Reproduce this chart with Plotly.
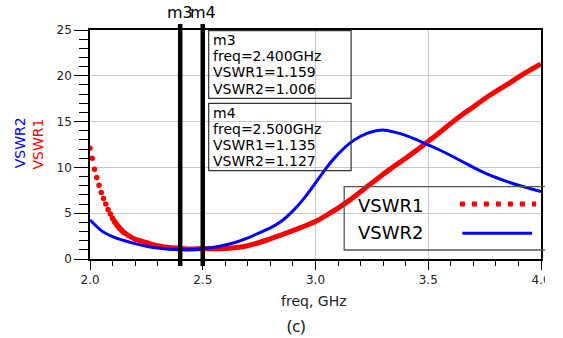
import plotly.graph_objects as go

# ---------------- data ----------------
freq = [2.00, 2.05, 2.10, 2.15, 2.20, 2.25, 2.30, 2.35, 2.40, 2.45, 2.50,
        2.55, 2.60, 2.65, 2.70, 2.75, 2.80, 2.85, 2.90, 2.95, 3.00,
        3.05, 3.10, 3.15, 3.20, 3.25, 3.30, 3.35, 3.40, 3.45, 3.50,
        3.55, 3.60, 3.65, 3.70, 3.75, 3.80, 3.85, 3.90, 3.95, 4.00]

vswr2 = [4.26, 3.10, 2.45, 2.02, 1.68, 1.40, 1.20, 1.06, 1.006, 1.04, 1.127,
         1.28, 1.52, 1.85, 2.30, 2.85, 3.40, 4.15, 5.25, 6.65, 8.30,
         10.00, 11.45, 12.60, 13.40, 13.90, 14.08, 13.85, 13.50, 13.00, 12.45,
         11.90, 11.30, 10.65, 10.00, 9.40, 8.90, 8.45, 8.05, 7.70, 7.35]

# VSWR1, smooth part (from 2.10 GHz)
freq_v1 = [2.10, 2.15, 2.20, 2.25, 2.30, 2.35, 2.40, 2.45, 2.50,
           2.55, 2.60, 2.65, 2.70, 2.75, 2.80, 2.85, 2.90, 2.95, 3.00,
           3.05, 3.10, 3.15, 3.20, 3.25, 3.30, 3.35, 3.40, 3.45, 3.50,
           3.55, 3.60, 3.65, 3.70, 3.75, 3.80, 3.85, 3.90, 3.95, 4.00]
vswr1 = [4.40, 2.90, 2.15, 1.80, 1.45, 1.25, 1.159, 1.10, 1.135,
         1.12, 1.15, 1.25, 1.45, 1.80, 2.20, 2.65, 3.10, 3.58, 4.10,
         4.80, 5.55, 6.40, 7.35, 8.30, 9.25, 10.15, 11.00, 11.90, 12.85,
         13.80, 14.80, 15.75, 16.60, 17.50, 18.30, 19.05, 19.85, 20.60, 21.30]

# VSWR1 sampled points on the steep start (visible as separate dots)
freq_v1_dots = [2.00, 2.01, 2.02, 2.03, 2.04, 2.05, 2.06, 2.07, 2.08,
                2.09, 2.10, 2.11, 2.12, 2.13, 2.14, 2.15]
vswr1_dots = [12.1, 11.0, 9.8, 8.9, 8.05, 7.25, 6.6, 6.0, 5.4,
              4.9, 4.45, 4.0, 3.65, 3.35, 3.1, 2.9]

x_ticks = [2.0, 2.5, 3.0, 3.5, 4.0]
x_tick_labels = ["2.0", "2.5", "3.0", "3.5", "4.0"]
y_ticks = [0, 5, 10, 15, 20, 25]
y_tick_labels = ["0", "5", "10", "15", "20", "25"]

markers = ["m3", "m4"]
marker_freq = [2.400, 2.500]
marker_vswr1 = [1.159, 1.135]
marker_vswr2 = [1.006, 1.127]

# ---------------- layout helpers ----------------
W, H = 563, 338
L, R, T, B = 90, 546, 30, 259   # plot area in pixels


def px(xp):
    return (xp - L) / (R - L)


def py(yp):
    return (B - yp) / (B - T)


FONT = "DejaVu Sans"
RED = "#ff0000"
BLUE = "#0000ff"

fig = go.Figure()

fig.add_trace(go.Scatter(x=freq_v1, y=vswr1, mode="lines",
                         line=dict(color=RED, width=5, shape="spline", smoothing=0.5),
                         showlegend=False, hoverinfo="skip"))
fig.add_trace(go.Scatter(x=freq_v1_dots, y=vswr1_dots, mode="markers",
                         marker=dict(color=RED, size=5.5, line=dict(width=0)),
                         showlegend=False, hoverinfo="skip"))
fig.add_trace(go.Scatter(x=freq, y=vswr2, mode="lines",
                         line=dict(color=BLUE, width=3, shape="spline", smoothing=0.5),
                         showlegend=False, hoverinfo="skip"))

# marker triangles (top pointing down, bottom pointing up)
fig.add_trace(go.Scatter(x=marker_freq, y=[25.3] * len(marker_freq), mode="markers",
                         marker=dict(symbol="triangle-down", size=12, color="black"),
                         cliponaxis=False, showlegend=False, hoverinfo="skip"))
fig.add_trace(go.Scatter(x=marker_freq, y=[-0.45] * len(marker_freq), mode="markers",
                         marker=dict(symbol="triangle-up", size=10, color="black"),
                         cliponaxis=False, showlegend=False, hoverinfo="skip"))

shapes = []
annotations = []

# marker vertical lines
for f in marker_freq:
    shapes.append(dict(type="line", xref="x", yref="paper", x0=f, x1=f,
                       y0=py(266), y1=py(24), line=dict(color="black", width=4.5),
                       layer="above"))

# marker labels m3 / m4
for name, f in zip(markers, marker_freq):
    annotations.append(dict(x=f, y=py(13), xref="x", yref="paper", text=name,
                            showarrow=False, xanchor="center", yanchor="middle",
                            font=dict(family=FONT, size=16, color="black")))

# marker readout boxes
box_tops = [30.7, 103.3]
box_bots = [98.3, 170.7]
for i, name in enumerate(markers):
    shapes.append(dict(type="rect", xref="paper", yref="paper",
                       x0=px(210), x1=px(354), y0=py(box_bots[i]), y1=py(box_tops[i]),
                       line=dict(color="#333333", width=1.2), fillcolor="rgba(0,0,0,0)",
                       layer="above"))
    lines = [name,
             "freq=%.3fGHz" % marker_freq[i],
             "VSWR1=%.3f" % marker_vswr1[i],
             "VSWR2=%.3f" % marker_vswr2[i]]
    y0 = box_tops[i] + 9.3
    for k, t in enumerate(lines):
        annotations.append(dict(x=px(212), y=py(y0 + k * 16.2), xref="paper", yref="paper",
                                text=t, showarrow=False, xanchor="left", yanchor="middle",
                                font=dict(family=FONT, size=14, color="black")))

# legend box (transparent)
shapes.append(dict(type="rect", xref="paper", yref="paper",
                   x0=px(347), x1=px(600), y0=py(250), y1=py(186.7),
                   line=dict(color="#555555", width=1.3), fillcolor="rgba(0,0,0,0)",
                   layer="above"))
annotations.append(dict(x=px(359), y=py(205), xref="paper", yref="paper", text="VSWR1",
                        showarrow=False, xanchor="left", yanchor="middle",
                        font=dict(family=FONT, size=18, color="black")))
annotations.append(dict(x=px(359), y=py(232), xref="paper", yref="paper", text="VSWR2",
                        showarrow=False, xanchor="left", yanchor="middle",
                        font=dict(family=FONT, size=18, color="black")))
shapes.append(dict(type="line", xref="paper", yref="paper",
                   x0=px(464), x1=px(541), y0=py(204), y1=py(204),
                   line=dict(color=RED, width=5, dash="5px,7px"), layer="above"))
shapes.append(dict(type="line", xref="paper", yref="paper",
                   x0=px(466.5), x1=px(537), y0=py(233.3), y1=py(233.3),
                   line=dict(color=BLUE, width=3), layer="above"))

# right-hand crop of the original picture
shapes.append(dict(type="rect", xref="paper", yref="paper",
                   x0=px(550), x1=px(580), y0=py(350), y1=py(-10),
                   line=dict(width=0), fillcolor="white", layer="above"))

# axis titles
annotations.append(dict(x=px(316.5), y=py(301), xref="paper", yref="paper",
                        text="freq, GHz", showarrow=False, xanchor="center", yanchor="middle",
                        font=dict(family=FONT, size=14, color="#222222")))
annotations.append(dict(x=px(19.5), y=py(143), xref="paper", yref="paper",
                        text="VSWR2", showarrow=False, textangle=-90,
                        xanchor="center", yanchor="middle",
                        font=dict(family=FONT, size=14, color=BLUE)))
annotations.append(dict(x=px(37), y=py(144), xref="paper", yref="paper",
                        text="VSWR1", showarrow=False, textangle=-90,
                        xanchor="center", yanchor="middle",
                        font=dict(family=FONT, size=14, color=RED)))
annotations.append(dict(x=px(298), y=py(325), xref="paper", yref="paper",
                        text="(c)", showarrow=False, xanchor="center", yanchor="middle",
                        font=dict(family="Noto Sans", size=17, color="#222222")))

fig.update_layout(
    width=W, height=H,
    margin=dict(l=L, r=W - R, t=T, b=H - B, pad=0),
    paper_bgcolor="white", plot_bgcolor="white",
    shapes=shapes, annotations=annotations,
    showlegend=False,
    xaxis=dict(range=[2.0, 4.0], tickvals=x_ticks, ticktext=x_tick_labels,
               ticks="outside", ticklen=9, tickwidth=1.2, tickcolor="black",
               showline=True, linecolor="black", linewidth=1.5, mirror=True,
               showgrid=True, gridcolor="#c8c8c8", gridwidth=1, zeroline=False,
               tickfont=dict(family=FONT, size=12, color="#222222"),
               minor=dict(dtick=0.1, tick0=2.0, ticks="outside", ticklen=5,
                          tickcolor="black", tickwidth=1.2, showgrid=False)),
    yaxis=dict(range=[0, 25], tickvals=y_ticks, ticktext=y_tick_labels,
               ticks="outside", ticklen=14, tickwidth=1.2, tickcolor="black",
               showline=True, linecolor="black", linewidth=1.5, mirror=True,
               showgrid=True, gridcolor="#c8c8c8", gridwidth=1, zeroline=False,
               tickfont=dict(family=FONT, size=12, color="#222222"),
               minor=dict(dtick=1, tick0=0, ticks="outside", ticklen=9,
                          tickcolor="black", tickwidth=1.2, showgrid=False)),
)

fig.write_html("out.html", config={"displayModeBar": False},
               post_script="document.body.style.margin='0';"
                           "document.body.style.overflow='hidden';")
